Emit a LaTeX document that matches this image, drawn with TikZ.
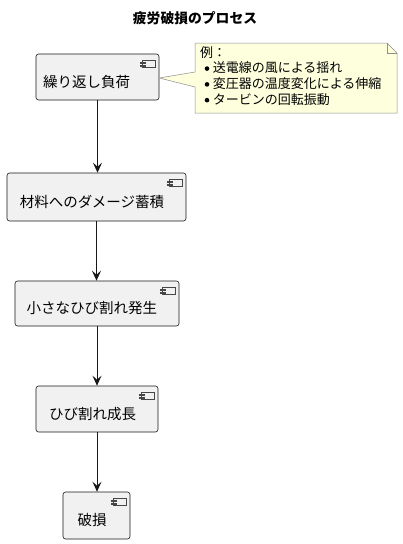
\documentclass[tikz,border=0pt]{standalone}
\usepackage{fontspec}
\setmainfont{Noto Sans CJK JP}
\usetikzlibrary{arrows.meta,calc}
\definecolor{boxfill}{HTML}{F1F1F1}
\definecolor{boxline}{HTML}{181818}
\definecolor{notefill}{HTML}{FEFFDD}
\definecolor{noteline}{HTML}{8C8C8C}
\tikzset{
  x=1pt, y=1pt,
  comp/.style={draw=boxline, fill=boxfill, rounded corners=2.5pt, line width=0.6pt, inner sep=0pt},
  lbl/.style={font=\fontsize{14.5}{16}\selectfont, inner sep=0pt, text=black},
  flow/.style={draw=boxline, line width=0.9pt, -{Stealth[length=10pt, width=9pt, inset=4pt]}},
  icon/.style={draw=boxline!80, line width=0.5pt, fill=boxfill},
}
\newcommand{\compicon}[1]{%
  \draw[icon] ($(#1.north east)+(-17,-7)$) rectangle ($(#1.north east)+(-4,-14)$);
  \draw[icon] ($(#1.north east)+(-19.5,-8.5)$) rectangle ($(#1.north east)+(-14.5,-10)$);
  \draw[icon] ($(#1.north east)+(-19.5,-11.3)$) rectangle ($(#1.north east)+(-14.5,-12.8)$);
}
\newcommand{\notebullet}{\hspace*{4.5pt}\tikz[baseline=-4.3pt]\fill (0,0) circle (2.3pt);\hspace{3.5pt}}
\begin{document}
\begin{tikzpicture}
\useasboundingbox (0,0) rectangle (402,-544);
\node[font=\bfseries\fontsize{13.8}{15}\selectfont, inner sep=0pt] (title) at (195,-18) {疲労破損のプロセス};

\node[comp, minimum width=123pt, minimum height=46pt] (b1) at (97.5,-77) {};
\node[comp, minimum width=179pt, minimum height=48pt] (b2) at (96.5,-197) {};
\node[comp, minimum width=164pt, minimum height=45pt] (b3) at (97,-303.5) {};
\node[comp, minimum width=122pt, minimum height=46pt] (b4) at (97,-409) {};
\node[comp, minimum width=67pt, minimum height=47pt] (b5) at (96.5,-515.5) {};

\node[lbl] (t1) at (86.5,-82) {繰り返し負荷};
\node[lbl] (t2) at (92,-202) {材料へのダメージ蓄積};
\node[lbl] (t3) at (92,-308) {小さなひび割れ発生};
\node[lbl] (t4) at (92.5,-414) {ひび割れ成長};
\node[lbl] (t5) at (92,-520) {破損};

\compicon{b1}
\compicon{b2}
\compicon{b3}
\compicon{b4}
\compicon{b5}

\draw[flow] (b1.south) -- (b1.south |- b2.north);
\draw[flow] (b2.south) -- (b2.south |- b3.north);
\draw[flow] (b3.south) -- (b3.south |- b4.north);
\draw[flow] (b4.south) -- (b4.south |- b5.north);

% note
\coordinate (nw) at (195,-43);
\coordinate (se) at (397,-113);
\coordinate (tip) at (b1.east |- 0,-78);
\draw[draw=noteline, fill=notefill, line width=0.5pt]
  (nw) -- (387,-43) -- (397,-53) -- (se) -- (195,-113) -- (195,-87)
  -- (tip) -- (195,-72) -- cycle;
\draw[draw=noteline, line width=0.5pt] (387,-43) -- (387,-53) -- (397,-53);
\node[anchor=north west, align=left, inner sep=0pt, font=\fontsize{13}{15.8}\selectfont] (note) at (200,-46)
 {例：\\
 \notebullet 送電線の風による揺れ\\
 \notebullet 変圧器の温度変化による伸縮\\
 \notebullet タービンの回転振動};
\end{tikzpicture}
\end{document}
